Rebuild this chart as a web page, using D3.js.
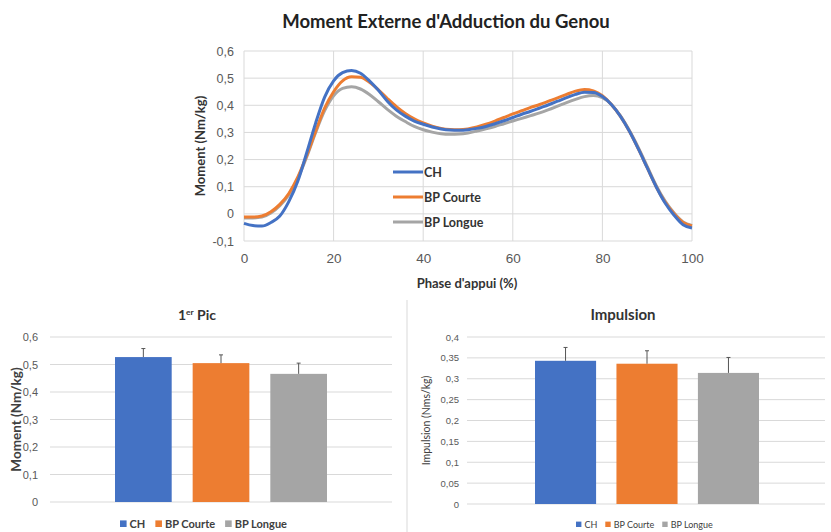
<!DOCTYPE html>
<html>
<head>
<meta charset="utf-8">
<script src="https://cdn.jsdelivr.net/npm/d3@7"></script>
<style>
  body { margin: 0; background: #fff; }
  svg { display: block; font-family: Lato, "Open Sans", sans-serif; }
  .grid line { stroke: #d9d9d9; stroke-width: 1; }
  .tick text { fill: #595959; }
</style>
</head>
<body>
<div id="chart"></div>
<script>
// data
const series = ['CH', 'BP Courte', 'BP Longue'];
const colors = ['#4472c4', '#ed7d31', '#a5a5a5'];

const phase = [0, 2, 4, 6, 8, 10, 12, 14, 16, 18, 20, 22, 24, 26, 28, 30, 32, 34, 36, 38, 40,
  42, 44, 46, 48, 50, 52, 54, 56, 58, 60, 62, 64, 66, 68, 70, 72, 74, 76, 78, 80,
  82, 84, 86, 88, 90, 92, 94, 96, 98, 100];

const momentCH = [-0.035, -0.043, -0.045, -0.032, -0.008, 0.045, 0.12, 0.225, 0.335, 0.43, 0.49,
  0.52, 0.528, 0.518, 0.49, 0.455, 0.415, 0.383, 0.36, 0.342, 0.33,
  0.32, 0.313, 0.309, 0.308, 0.31, 0.315, 0.322, 0.332, 0.343, 0.355,
  0.367, 0.378, 0.39, 0.402, 0.415, 0.428, 0.44, 0.448, 0.447, 0.432,
  0.403, 0.36, 0.305, 0.24, 0.17, 0.1, 0.04, -0.005, -0.04, -0.052];

const momentCourte = [-0.012, -0.012, -0.008, 0.008, 0.035, 0.075, 0.135, 0.215, 0.305, 0.39, 0.45,
  0.49, 0.505, 0.503, 0.485, 0.457, 0.425, 0.395, 0.37, 0.35, 0.335,
  0.323, 0.315, 0.311, 0.31, 0.313, 0.32, 0.33, 0.342, 0.355, 0.368,
  0.38, 0.392, 0.403, 0.415, 0.427, 0.44, 0.452, 0.458, 0.453, 0.435,
  0.403, 0.36, 0.305, 0.24, 0.17, 0.1, 0.043, 0.0, -0.032, -0.045];

const momentLongue = [-0.015, -0.015, -0.012, 0.003, 0.03, 0.07, 0.13, 0.21, 0.3, 0.38, 0.435,
  0.462, 0.468, 0.46, 0.44, 0.413, 0.385, 0.36, 0.34, 0.322, 0.31,
  0.301, 0.295, 0.293, 0.294, 0.298, 0.305, 0.313, 0.322, 0.332, 0.342,
  0.352, 0.362, 0.372, 0.384, 0.397, 0.41, 0.422, 0.432, 0.436, 0.428,
  0.403, 0.362, 0.308, 0.245, 0.175, 0.105, 0.047, 0.003, -0.03, -0.043];

const pic = [0.527, 0.505, 0.466];
const picSd = [0.031, 0.030, 0.039];
const impulsion = [0.343, 0.336, 0.314];
const impulsionSd = [0.032, 0.031, 0.037];

const xTicksTop = [0, 20, 40, 60, 80, 100];
const yTicksTop = [-0.1, 0, 0.1, 0.2, 0.3, 0.4, 0.5, 0.6];
const yTicksPic = [0, 0.1, 0.2, 0.3, 0.4, 0.5, 0.6];
const yTicksImp = [0, 0.05, 0.1, 0.15, 0.2, 0.25, 0.3, 0.35, 0.4];

const fr = d3.formatLocale({ decimal: ',', thousands: ' ', grouping: [3], currency: ['', ' €'], minus: '-' });
const fmt = fr.format('~g');

const W = 831;
const H = 532;

const $svg = d3.select('#chart').append('svg')
  .attr('width', W)
  .attr('height', H);

// top line chart
function drawLines() {
  const x = d3.scaleLinear().domain([0, 100]).range([244, 692]);
  const y = d3.scaleLinear().domain([-0.1, 0.6]).range([241, 51]);
  const $g = $svg.append('g');

  $g.append('g').attr('class', 'grid')
    .selectAll('line.h').data(yTicksTop).join('line')
    .attr('x1', x(0)).attr('x2', x(100))
    .attr('y1', d => y(d)).attr('y2', d => y(d));
  $g.append('g').attr('class', 'grid')
    .selectAll('line.v').data(xTicksTop).join('line')
    .attr('x1', d => x(d)).attr('x2', d => x(d))
    .attr('y1', y(-0.1)).attr('y2', y(0.6));

  $g.append('g')
    .attr('transform', `translate(${x(0) - 5},0)`)
    .call(d3.axisLeft(y).tickValues(yTicksTop).tickFormat(fmt).tickSize(0).tickPadding(5))
    .call(a => a.select('.domain').remove())
    .selectAll('text').attr('font-size', 12.5);

  $g.append('g')
    .attr('transform', `translate(0,${y(-0.1) + 6})`)
    .call(d3.axisBottom(x).tickValues(xTicksTop).tickFormat(d3.format('d')).tickSize(0).tickPadding(6))
    .call(a => a.select('.domain').remove())
    .selectAll('text').attr('font-size', 13.5).attr('fill', '#404040');

  const line = d3.line()
    .x((d, i) => x(phase[i]))
    .y(d => y(d))
    .curve(d3.curveMonotoneX);

  const curves = [momentCH, momentCourte, momentLongue];
  // grey under orange under blue
  [2, 1, 0].forEach(k => {
    $g.append('path')
      .attr('d', line(curves[k]))
      .attr('fill', 'none')
      .attr('stroke', colors[k])
      .attr('stroke-width', 3)
      .attr('stroke-linejoin', 'round');
  });

  // legend inside plot
  const $leg = $g.append('g');
  series.forEach((s, i) => {
    const ly = 172 + i * 25;
    $leg.append('line')
      .attr('x1', 393).attr('x2', 423).attr('y1', ly).attr('y2', ly)
      .attr('stroke', colors[i]).attr('stroke-width', 3);
    $leg.append('text')
      .attr('x', 424).attr('y', ly + 4.5)
      .attr('font-size', 12.5).attr('font-weight', 700).attr('fill', '#333')
      .text(s);
  });

  $g.append('text')
    .attr('x', 446).attr('y', 28)
    .attr('text-anchor', 'middle')
    .attr('font-size', 18.5).attr('font-weight', 700).attr('fill', '#222')
    .text("Moment Externe d'Adduction du Genou");

  $g.append('text')
    .attr('x', 467).attr('y', 288)
    .attr('text-anchor', 'middle')
    .attr('font-size', 13).attr('font-weight', 700).attr('fill', '#333')
    .text("Phase d'appui (%)");

  $g.append('text')
    .attr('transform', `translate(205,146) rotate(-90)`)
    .attr('text-anchor', 'middle')
    .attr('font-size', 13).attr('font-weight', 700).attr('fill', '#333')
    .text('Moment (Nm/kg)');
}

// bar chart with error bars
function drawBars(opt) {
  const y = d3.scaleLinear().domain([0, opt.max]).range([opt.bottom, opt.top]);
  const x = d3.scaleBand().domain(series).range([opt.barLeft, opt.barRight]).paddingInner(opt.pad);
  const $g = $svg.append('g');

  $g.append('g').attr('class', 'grid')
    .selectAll('line').data(opt.ticks).join('line')
    .attr('x1', opt.left).attr('x2', opt.right)
    .attr('y1', d => y(d)).attr('y2', d => y(d));

  $g.append('g')
    .attr('transform', `translate(${opt.left - 4},0)`)
    .call(d3.axisLeft(y).tickValues(opt.ticks).tickFormat(fmt).tickSize(0).tickPadding(opt.tickPad))
    .call(a => a.select('.domain').remove())
    .selectAll('text').attr('font-size', opt.tickSize);

  $g.selectAll('rect.bar').data(opt.values).join('rect')
    .attr('class', 'bar')
    .attr('x', (d, i) => x(series[i]))
    .attr('width', x.bandwidth())
    .attr('y', d => y(d))
    .attr('height', d => y(0) - y(d))
    .attr('fill', (d, i) => colors[i]);

  const ex = (d, i) => x(series[i]) + x.bandwidth() / 2;
  $g.selectAll('line.err').data(opt.values).join('line')
    .attr('class', 'err')
    .attr('x1', ex).attr('x2', ex)
    .attr('y1', d => y(d))
    .attr('y2', (d, i) => y(d + opt.sd[i]))
    .attr('stroke', '#555').attr('stroke-width', 1);
  $g.selectAll('line.cap').data(opt.values).join('line')
    .attr('class', 'cap')
    .attr('x1', (d, i) => ex(d, i) - 2).attr('x2', (d, i) => ex(d, i) + 2)
    .attr('y1', (d, i) => y(d + opt.sd[i]))
    .attr('y2', (d, i) => y(d + opt.sd[i]))
    .attr('stroke', '#555').attr('stroke-width', 1);

  // title
  const $t = $g.append('text')
    .attr('x', opt.titleX).attr('y', 320)
    .attr('text-anchor', 'middle')
    .attr('font-weight', 700).attr('fill', '#333');
  opt.title.forEach(p => {
    $t.append('tspan')
      .attr('font-size', p.sup ? opt.titleSize * 0.6 : opt.titleSize)
      .attr('dy', p.sup ? -5 : (p.after ? 5 : 0))
      .text(p.text);
  });

  $g.append('text')
    .attr('transform', `translate(${opt.yTitleX},${(opt.top + opt.bottom) / 2}) rotate(-90)`)
    .attr('text-anchor', 'middle')
    .attr('font-size', opt.yTitleSize).attr('font-weight', opt.yTitleWeight).attr('fill', '#404040')
    .text(opt.yTitle);

  // legend
  let lx = opt.legendX;
  const sq = opt.legendSize * 0.6;
  series.forEach((s, i) => {
    $g.append('rect')
      .attr('x', lx).attr('y', 527 - sq).attr('width', sq).attr('height', sq)
      .attr('fill', colors[i]);
    const $txt = $g.append('text')
      .attr('x', lx + sq + 3).attr('y', 527.5)
      .attr('font-size', opt.legendSize).attr('font-weight', opt.legendWeight).attr('fill', '#404040')
      .text(s);
    lx += sq + 3 + $txt.node().getComputedTextLength() + opt.legendGap;
  });
}

drawLines();

drawBars({
  values: pic, sd: picSd, max: 0.6, ticks: yTicksPic,
  top: 337, bottom: 502, left: 50, right: 392,
  barLeft: 115, barRight: 327, pad: 0.27,
  tickSize: 11, tickPad: 8, title: [{ text: '1' }, { text: 'er', sup: true }, { text: ' Pic', after: true }],
  titleX: 197, titleSize: 14,
  yTitle: 'Moment (Nm/kg)', yTitleX: 21, yTitleSize: 13.5, yTitleWeight: 700,
  legendX: 120, legendSize: 11, legendWeight: 700, legendGap: 10
});

drawBars({
  values: impulsion, sd: impulsionSd, max: 0.4, ticks: yTicksImp,
  top: 337, bottom: 504, left: 467, right: 825,
  barLeft: 535, barRight: 759, pad: 0.25,
  tickSize: 9.5, tickPad: 4, title: [{ text: 'Impulsion' }], titleX: 623, titleSize: 15,
  yTitle: 'Impulsion (Nms/kg)', yTitleX: 430, yTitleSize: 10.5, yTitleWeight: 400,
  legendX: 576, legendSize: 9, legendWeight: 400, legendGap: 8
});

// panel divider
$svg.append('line')
  .attr('x1', 407).attr('x2', 407).attr('y1', 300).attr('y2', H)
  .attr('stroke', '#d9d9d9').attr('stroke-width', 1);
</script>
</body>
</html>
